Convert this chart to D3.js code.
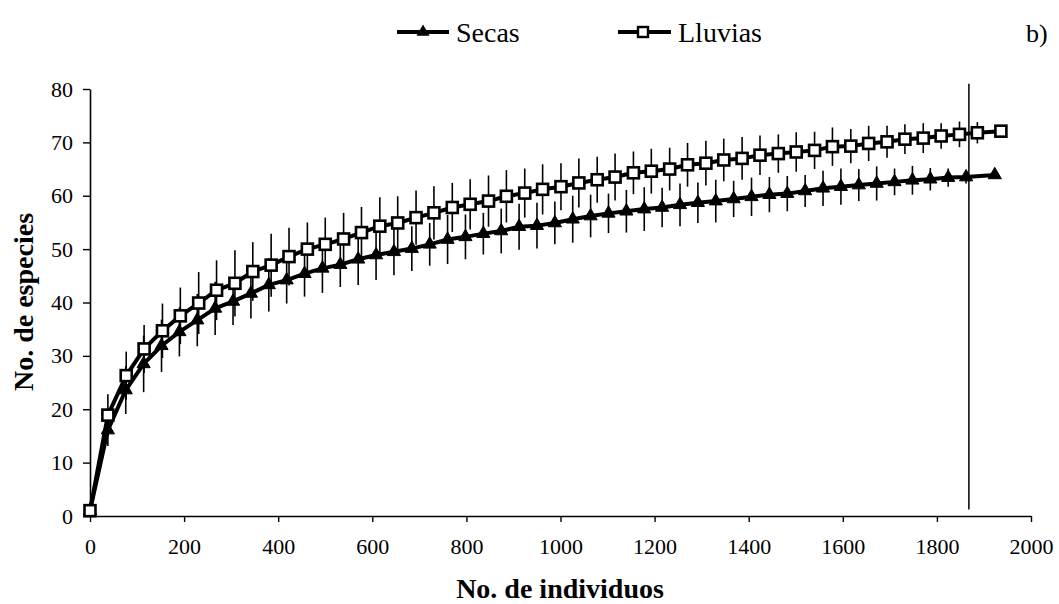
<!DOCTYPE html>
<html>
<head>
<meta charset="utf-8">
<script src="https://cdn.jsdelivr.net/npm/d3@7"></script>
<style>
  html, body { margin: 0; padding: 0; background: #fff; }
  svg { display: block; }
  svg text { font-family: "Liberation Serif", "Times New Roman", serif; fill: #000; }
</style>
</head>
<body>
<svg id="chart" width="1059" height="604"></svg>
<script>
// ---- Data ----
const secasX = [0,38,76,114,152,190,228,266,304,342,380,418,456,494,532,570,608,646,684,722,760,798,836,874,912,950,988,1026,1064,1102,1140,1178,1216,1254,1292,1330,1368,1406,1444,1482,1520,1558,1596,1634,1672,1710,1748,1786,1824,1862,1923];
const secasY = [1,16.1,23.6,28.5,31.9,34.5,36.7,38.9,40.2,41.7,43.3,44.2,45.4,46.4,47.1,48.1,48.9,49.5,50.1,50.9,51.8,52.3,52.9,53.4,54.2,54.4,54.9,55.6,56.2,56.7,57.1,57.5,57.8,58.3,58.7,59.0,59.4,59.8,60.2,60.4,60.9,61.4,61.7,62.0,62.3,62.6,62.9,63.1,63.4,63.5,63.9];
const secasSD = [0,3.0,4.5,5.3,4.9,4.6,4.9,5.0,4.4,4.7,5.0,4.4,4.3,4.6,4.2,4.8,4.7,4.4,4.2,4.0,4.6,4.2,3.9,4.2,4.3,4.3,4.0,4.4,4.0,3.7,4.0,4.1,3.7,4.0,3.8,4.0,3.4,3.6,3.3,3.3,3.0,3.3,3.4,3.0,3.2,2.5,2.7,2.1,1.7,1.2,0];

const lluviasX = [0,38,77,115,154,192,231,269,308,346,385,423,462,500,539,577,616,654,693,731,770,808,847,885,924,962,1001,1039,1078,1116,1155,1193,1232,1270,1309,1347,1386,1424,1463,1501,1540,1578,1617,1655,1694,1732,1771,1809,1848,1886,1936];
const lluviasY = [1,18.9,26.3,31.3,34.7,37.5,39.9,42.3,43.6,45.8,47.0,48.6,50.0,50.9,51.9,53.1,54.3,54.9,55.9,56.8,57.8,58.4,59.0,59.9,60.5,61.2,61.7,62.4,63.0,63.5,64.3,64.6,65.0,65.8,66.1,66.7,67.0,67.6,67.9,68.2,68.5,69.2,69.3,69.8,70.1,70.6,70.8,71.2,71.5,71.8,72.1];
const lluviasSD = [0,3.9,4.5,4.5,5.1,5.3,5.8,5.6,6.2,5.5,5.9,5.4,5.0,5.0,4.9,4.8,5.4,5.0,5.1,5.0,4.6,4.7,4.8,4.9,4.6,4.7,4.4,4.6,4.3,4.4,4.0,4.2,4.0,4.1,4.2,4.0,4.0,3.7,3.6,3.7,3.5,3.6,3.2,3.3,3.0,2.8,2.8,2.4,2.4,2.0,0];

const xTicks = [0,200,400,600,800,1000,1200,1400,1600,1800,2000];
const yTicks = [0,10,20,30,40,50,60,70,80];
const refLineX = 1868;
const refLineY = [1.2, 81];
const seriesNames = ["Secas", "Lluvias"];
const xTitle = "No. de individuos";
const yTitle = "No. de especies";
const panelLabel = "b)";

// ---- Chart ----
const FONT = "'Liberation Serif', 'Times New Roman', serif";
const svg = d3.select("#chart");
const x = d3.scaleLinear().domain([0, 2000]).range([90, 1031]);
const y = d3.scaleLinear().domain([0, 80]).range([516, 89]);

const secas = secasX.map((d, i) => ({x: d, y: secasY[i], sd: secasSD[i]}));
const lluvias = lluviasX.map((d, i) => ({x: d, y: lluviasY[i], sd: lluviasSD[i]}));

// Axes
const xAxis = svg.append("g").attr("transform", `translate(0,${y(0)})`)
  .call(d3.axisBottom(x).tickValues(xTicks).tickFormat(d3.format("d"))
    .tickSize(6).tickPadding(16).tickSizeOuter(0));
const yAxis = svg.append("g").attr("transform", `translate(${x(0)},0)`)
  .call(d3.axisLeft(y).tickValues(yTicks).tickFormat(d3.format("d"))
    .tickSize(7).tickPadding(10).tickSizeOuter(0));
[xAxis, yAxis].forEach(a => {
  a.attr("font-family", FONT).attr("font-size", 22);
  a.select(".domain").attr("stroke", "#000").attr("stroke-width", 1.6);
  a.selectAll(".tick line").attr("stroke", "#000").attr("stroke-width", 1.4);
  a.selectAll(".tick text").attr("font-family", FONT).attr("font-size", 22).attr("fill", "#000");
});

// Reference vertical line
svg.append("line")
  .attr("x1", x(refLineX)).attr("x2", x(refLineX))
  .attr("y1", y(refLineY[0])).attr("y2", y(refLineY[1]))
  .attr("stroke", "#000").attr("stroke-width", 1.5);

// Error bars
function errorBars(data) {
  svg.append("g").selectAll("line").data(data.filter(d => d.sd > 0)).join("line")
    .attr("x1", d => x(d.x)).attr("x2", d => x(d.x))
    .attr("y1", d => y(d.y - d.sd)).attr("y2", d => y(d.y + d.sd))
    .attr("stroke", "#000").attr("stroke-width", 1.6);
}
errorBars(lluvias);
errorBars(secas);

const line = d3.line().x(d => x(d.x)).y(d => y(d.y));
svg.append("path").datum(secas).attr("d", line)
  .attr("fill", "none").attr("stroke", "#000").attr("stroke-width", 4).attr("stroke-linejoin", "round");
svg.append("path").datum(lluvias).attr("d", line)
  .attr("fill", "none").attr("stroke", "#000").attr("stroke-width", 4).attr("stroke-linejoin", "round");

// Markers
const tri = d3.symbol().type(d3.symbolTriangle).size(75);
svg.append("g").selectAll("path").data(secas).join("path")
  .attr("d", tri).attr("transform", d => `translate(${x(d.x)},${y(d.y)})`)
  .attr("fill", "#000").attr("stroke", "#000").attr("stroke-width", 1);
svg.append("g").selectAll("rect").data(lluvias).join("rect")
  .attr("x", d => x(d.x) - 5.5).attr("y", d => y(d.y) - 5.5)
  .attr("width", 11).attr("height", 11)
  .attr("fill", "#fff").attr("stroke", "#000").attr("stroke-width", 2.6);

// Axis titles
svg.append("text").attr("x", 560).attr("y", 598).attr("text-anchor", "middle")
  .attr("font-family", FONT).attr("font-size", 28).attr("font-weight", "bold").text(xTitle);
svg.append("text").attr("transform", "translate(33,302) rotate(-90)").attr("text-anchor", "middle")
  .attr("font-family", FONT).attr("font-size", 28).attr("font-weight", "bold").text(yTitle);

// Legend
const leg = svg.append("g").attr("font-family", FONT);
leg.append("line").attr("x1", 397).attr("x2", 449).attr("y1", 32).attr("y2", 32)
  .attr("stroke", "#000").attr("stroke-width", 4);
leg.append("path").attr("d", tri).attr("transform", "translate(423,32)").attr("fill", "#000");
leg.append("text").attr("x", 456).attr("y", 42).attr("font-family", FONT).attr("font-size", 28).text(seriesNames[0]);
leg.append("line").attr("x1", 618).attr("x2", 671).attr("y1", 32).attr("y2", 32)
  .attr("stroke", "#000").attr("stroke-width", 4);
leg.append("rect").attr("x", 638).attr("y", 27).attr("width", 10).attr("height", 10)
  .attr("fill", "#fff").attr("stroke", "#000").attr("stroke-width", 2.4);
leg.append("text").attr("x", 678).attr("y", 42).attr("font-family", FONT).attr("font-size", 28).text(seriesNames[1]);

svg.append("text").attr("x", 1026).attr("y", 42).attr("font-family", FONT).attr("font-size", 26).text(panelLabel);
</script>
</body>
</html>
